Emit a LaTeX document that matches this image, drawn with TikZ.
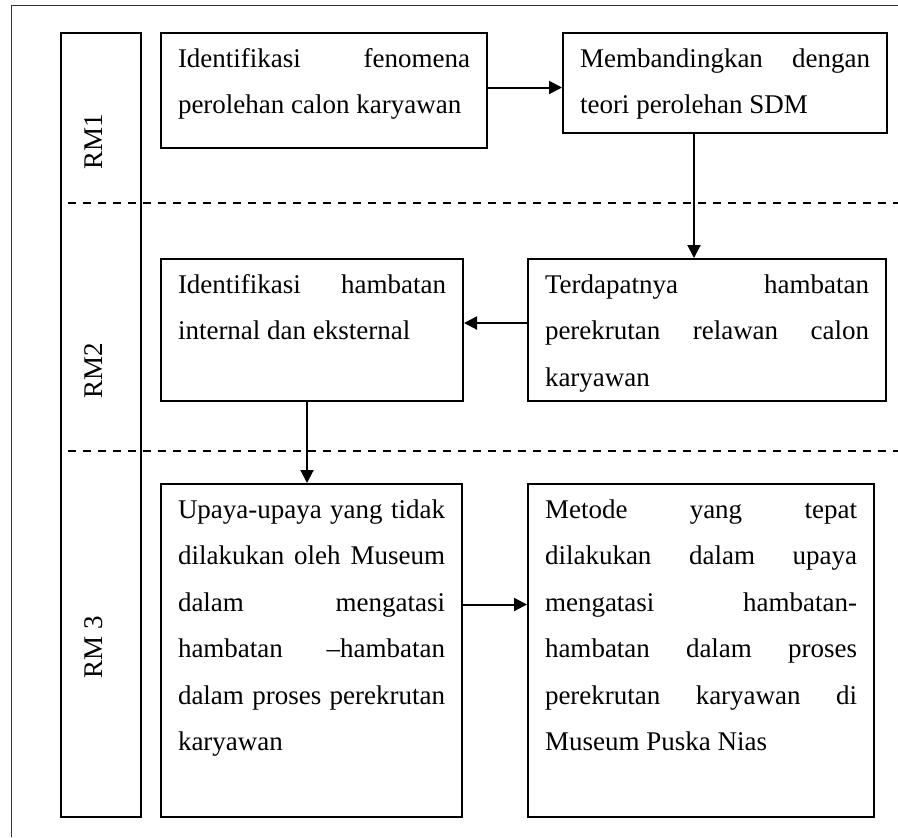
\documentclass[tikz,border=0pt]{standalone}
\usepackage{fontspec}
\setmainfont{Liberation Serif}
\usetikzlibrary{arrows.meta}
\hyphenpenalty=10000
\tolerance=10000
\tikzset{
	kotak/.style={draw, line width=1pt, anchor=north west, align=justify, inner xsep=8.5pt, inner ysep=0pt, text height=17pt, font=\fontsize{13.5}{23.25}\selectfont},
	kolom/.style={draw, line width=1pt, anchor=north west, inner sep=0pt, minimum width=40pt, minimum height=392pt},
	teksrm/.style={rotate=90, inner sep=0pt, font=\fontsize{13.5}{16}\selectfont},
	panah/.style={-{Triangle[length=6.5pt,width=6.5pt]}, line width=1pt},
	garis/.style={dash pattern=on 4pt off 3.5pt, line width=0.6pt}
}
\begin{document}
\begin{tikzpicture}[x=0.5pt, y=-0.5pt]
	\useasboundingbox (0,0) rectangle (898,837);
	% bingkai luar
	\draw[line width=0.8pt, black!80] (898,5.5) -- (11.5,5.5) -- (11.5,837);
	% kolom RM
	\node[kolom] (rm) at (60,32) {};
	\node[teksrm] (rm1) at (94,142) {RM1};
	\node[teksrm] (rm2) at (94,371) {RM2};
	\node[teksrm] (rm3) at (94,647) {RM 3};
	% garis pemisah
	\draw[garis] (68,203) -- (898,203);
	\draw[garis] (68,451) -- (898,451);
	% kotak-kotak
	\node[kotak, text width=146pt, text depth=40.5pt] (b1) at (160,32) {Identifikasi fenomena\linebreak perolehan calon karyawan};
	\node[kotak, text width=145pt, text depth=33pt] (b2) at (562,32) {Membandingkan dengan\linebreak teori perolehan SDM};
	\node[kotak, text width=162pt, text depth=54pt] (b3) at (527,258) {Terdapatnya hambatan\linebreak perekrutan relawan calon\linebreak karyawan};
	\node[kotak, text width=134pt, text depth=54pt] (b4) at (160,258) {Identifikasi hambatan\linebreak internal dan eksternal};
	\node[kotak, text width=133.5pt, text depth=149.5pt] (b5) at (160,483) {Upaya-upaya yang tidak\linebreak dilakukan oleh Museum\linebreak dalam mengatasi\linebreak hambatan --hambatan\linebreak dalam proses perekrutan\linebreak karyawan};
	\node[kotak, text width=156pt, text depth=149.5pt] (b6) at (527,483) {Metode yang tepat\linebreak dilakukan dalam upaya\linebreak mengatasi hambatan-\linebreak hambatan dalam proses\linebreak perekrutan karyawan di\linebreak Museum Puska Nias};
	% panah
	\draw[panah] ([yshift=1.5pt]b1.east) -- ([yshift=1.5pt]b1.east -| b2.west);
	\draw[panah] ([xshift=-15.5pt]b2.south) -- ([xshift=-15.5pt]b2.south |- b3.north);
	\draw[panah] ([yshift=3.5pt]b3.west) -- ([yshift=3.5pt]b3.west -| b4.east);
	\draw[panah] ([xshift=-2.5pt]b4.south) -- ([xshift=-2.5pt]b4.south |- b5.north);
	\draw[panah] ([yshift=23pt]b5.east) -- ([yshift=23pt]b5.east -| b6.west);
\end{tikzpicture}
\end{document}
